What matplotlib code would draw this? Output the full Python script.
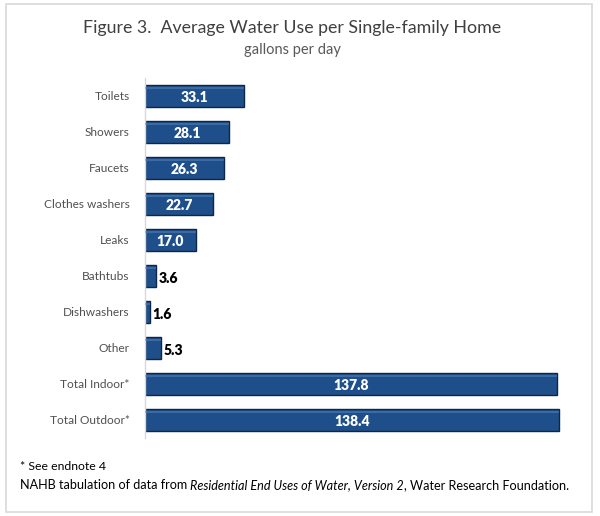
import matplotlib
matplotlib.use("Agg")
import matplotlib.pyplot as plt
from matplotlib.patches import Rectangle

categories = ["Toilets", "Showers", "Faucets", "Clothes washers", "Leaks",
              "Bathtubs", "Dishwashers", "Other", "Total Indoor*", "Total Outdoor*"]
values = [33.1, 28.1, 26.3, 22.7, 17.0, 3.6, 1.6, 5.3, 137.8, 138.4]
labels = ["33.1", "28.1", "26.3", "22.7", "17.0", "3.6", "1.6", "5.3", "137.8", "138.4"]

plt.rcParams['font.family'] = ['Lato', 'DejaVu Sans']

fig = plt.figure(figsize=(6.0, 5.16), dpi=100)
fig.patch.set_facecolor('white')
fig.add_artist(Rectangle((6/600, 4/516), 586/600, 508/516, transform=fig.transFigure,
                         fill=False, edgecolor='#d9d9d9', linewidth=1.2))

ax = fig.add_axes([145/600, 1-438/516, 433/600, 360/516])
ypos = list(range(len(categories)))
bar_color = '#1f4f8b'
ax.barh(ypos, values, height=0.62, color=bar_color, edgecolor='#0d2748', linewidth=1.0, zorder=2)
ax.barh([y - 0.22 for y in ypos], values, height=0.07, color='#5a85bb', linewidth=0, zorder=3, alpha=0.5)
ax.set_ylim(len(categories) - 0.5, -0.5)
ax.set_xlim(0, 144.8)

for y, v, t in zip(ypos, values, labels):
    if v > 10:
        ax.text(v / 2, y + 0.03, t, ha='center', va='center', color='white',
                fontsize=10, fontweight='heavy', zorder=4)
    else:
        ax.text(v + 1.0, y + 0.08, t, ha='left', va='center', color='black',
                fontsize=10, fontweight='heavy', zorder=4)

ax.set_yticks(ypos)
ax.set_yticklabels(categories, fontsize=8.6, color='#505050')
ax.tick_params(axis='y', length=0, pad=11)
ax.set_xticks([])
for s in ['top', 'right', 'bottom']:
    ax.spines[s].set_visible(False)
ax.spines['left'].set_color('#d9d9d9')
ax.spines['left'].set_linewidth(1.0)

fig.text(292/600, 1-28/516, "Figure 3.  Average Water Use per Single-family Home",
         ha='center', va='center', fontsize=12.8, color='#404040')
fig.text(292/600, 1-50/516, "gallons per day", ha='center', va='center',
         fontsize=10.5, color='#595959')

fig.text(20/600, 1-466/516, "* See endnote 4", ha='left', va='center', fontsize=8.8, color='black')

parts = [("NAHB tabulation of data from ", 'normal'),
         ("Residential End Uses of Water, Version 2", 'italic'),
         (", Water Research Foundation.", 'normal')]
renderer = fig.canvas.get_renderer()
x = 20 / 600
for txt, style in parts:
    t = fig.text(x, 1-485/516, txt, ha='left', va='center', fontsize=9.1,
                 style=style, color='black')
    bb = t.get_window_extent(renderer=renderer)
    x = x + bb.width / fig.bbox.width

fig.savefig("out.png", dpi=100, facecolor='white')
